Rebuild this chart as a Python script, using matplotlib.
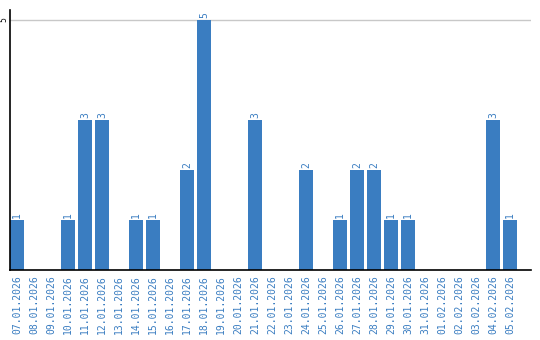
import matplotlib
matplotlib.use("Agg")
import matplotlib.pyplot as plt

dates = ["07.01.2026", "08.01.2026", "09.01.2026", "10.01.2026", "11.01.2026",
         "12.01.2026", "13.01.2026", "14.01.2026", "15.01.2026", "16.01.2026",
         "17.01.2026", "18.01.2026", "19.01.2026", "20.01.2026", "21.01.2026",
         "22.01.2026", "23.01.2026", "24.01.2026", "25.01.2026", "26.01.2026",
         "27.01.2026", "28.01.2026", "29.01.2026", "30.01.2026", "31.01.2026",
         "01.02.2026", "02.02.2026", "03.02.2026", "04.02.2026", "05.02.2026"]
counts = [1, 0, 0, 1, 3, 3, 0, 1, 1, 0, 2, 5, 0, 0, 3,
          0, 0, 2, 0, 1, 2, 2, 1, 1, 0, 0, 0, 0, 3, 1]

BLUE = "#3a7dc1"

fig = plt.figure(figsize=(5.4, 3.4), dpi=100)
ax = fig.add_axes([10 / 540, 70 / 340, 521 / 540, 260 / 340])

x = list(range(len(dates)))
w = 0.82
ax.bar(x, counts, width=w, color=BLUE, zorder=2)
for xi, c in zip(x, counts):
    if c:
        ax.text(xi, c + 0.04, str(c), rotation=90, ha="center", va="bottom",
                color=BLUE, fontsize=7, family="DejaVu Sans Mono")

ax.set_xlim(-w / 2, -w / 2 + 521 / 17.0)
ax.set_ylim(0, 5.2)
ax.set_yticks([5])
ax.set_yticklabels(["5"], rotation=90, va="center", fontsize=5.5)
ax.yaxis.grid(True, color="#c8c8c8", lw=1, zorder=0)
ax.tick_params(axis="y", length=0, pad=1)
ax.set_xticks(x)
ax.set_xticklabels(dates, rotation=90, fontsize=7, color=BLUE,
                   family="DejaVu Sans Mono")
ax.tick_params(axis="x", length=0, pad=4)

for s in ["top", "right"]:
    ax.spines[s].set_visible(False)
for s in ["left", "bottom"]:
    ax.spines[s].set_color("black")
    ax.spines[s].set_linewidth(1.2)

fig.savefig("out.png", dpi=100)
